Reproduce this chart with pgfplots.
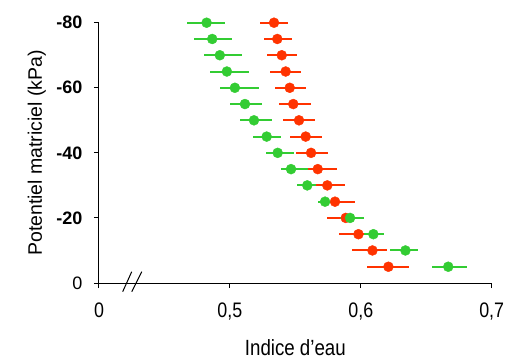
\documentclass[border=0pt]{standalone}
\usepackage{fontspec}
\setmainfont{Liberation Sans}
\newfontfamily\narrowfont{Liberation Sans}[FakeStretch=0.85]
\usepackage{pgfplots}
\pgfplotsset{compat=1.18}
\usepackage{pgfplotstable}
\definecolor{cgreen}{RGB}{51,204,51}
\definecolor{cred}{RGB}{255,51,0}

\pgfplotstableread{
x y em ep
0.4822 -80 0.0148 0.0140
0.4865 -75 0.0140 0.0153
0.4923 -70 0.0122 0.0168
0.4977 -65 0.0128 0.0166
0.5038 -60 0.0112 0.0181
0.5115 -55 0.0115 0.0128
0.5184 -50 0.0105 0.0138
0.5281 -45 0.0105 0.0107
0.5365 -40 0.0090 0.0122
0.5467 -35 0.0077 0.0132
0.5591 -30 0.0075 0.0065
0.5727 -25 0.0055 0.0055
0.5918 -20 0.0080 0.0110
0.6096 -15 0.0070 0.0080
0.6341 -10 0.0117 0.0099
0.6668 -5  0.0122 0.0143
}\greendata

\pgfplotstableread{
x y em ep
0.5337 -80 0.0107 0.0109
0.5362 -75 0.0099 0.0115
0.5396 -70 0.0112 0.0119
0.5426 -65 0.0118 0.0115
0.5457 -60 0.0112 0.0122
0.5484 -55 0.0107 0.0138
0.5528 -50 0.0120 0.0125
0.5579 -45 0.0120 0.0125
0.5620 -40 0.0117 0.0128
0.5671 -35 0.0112 0.0150
0.5744 -30 0.0110 0.0135
0.5803 -25 0.0115 0.0155
0.5885 -20 0.0141 0.0107
0.5982 -15 0.0148 0.0095
0.6089 -10 0.0153 0.0110
0.6211 -5  0.0161 0.0161
}\reddata

\begin{document}
\begin{tikzpicture}
\path[use as bounding box] (0,0) rectangle (514pt,359pt);
\begin{axis}[
  at={(99pt,76pt)}, anchor=south west,
  width=392.7pt, height=260.3pt, scale only axis,
  xmin=0.4, xmax=0.7, ymin=-80, ymax=0, y dir=reverse,
  axis x line*=bottom, axis y line*=left,
  axis line style={black, line width=1pt, -},
  xtick={0.4,0.5,0.6,0.7}, xticklabels={0,{0,5},{0,6},{0,7}},
  ytick={-80,-60,-40,-20,0}, yticklabels={\textbf{-80},\textbf{-60},\textbf{-40},\textbf{-20},0},
  tick align=outside, major tick length=5pt,
  tick style={black, line width=1pt},
  xticklabel style={font=\narrowfont\fontsize{21}{21}\selectfont, yshift=-11pt},
  yticklabel style={font=\fontsize{18}{18}\selectfont, xshift=-8pt},
  xlabel={Indice d’eau}, ylabel={Potentiel matriciel (kPa)},
  xlabel style={font=\narrowfont\fontsize{22}{22}\selectfont, at={(axis description cs:0.5,-0.247)}, anchor=center},
  ylabel style={font=\fontsize{19.5}{19.5}\selectfont, at={(axis description cs:-0.1586,0.5)}, anchor=center},
  clip=false,
]
\addplot[only marks, mark=*, mark size=5pt, color=cred, mark options={draw=cred, fill=cred},
  error bars/.cd, x dir=both, x explicit, error mark=none,
  error bar style={line width=2pt, cred}]
  table[x=x, y=y, x error plus=ep, x error minus=em] {\reddata};
\addplot[only marks, mark=*, mark size=5pt, color=cgreen, mark options={draw=cgreen, fill=cgreen},
  error bars/.cd, x dir=both, x explicit, error mark=none,
  error bar style={line width=2pt, cgreen}]
  table[x=x, y=y, x error plus=ep, x error minus=em] {\greendata};
\draw[black, line width=1pt] (axis cs:0.4181,2.67) -- (axis cs:0.4250,-3.47);
\draw[black, line width=1pt] (axis cs:0.4250,2.67) -- (axis cs:0.4327,-3.47);
\end{axis}
\end{tikzpicture}
\end{document}
